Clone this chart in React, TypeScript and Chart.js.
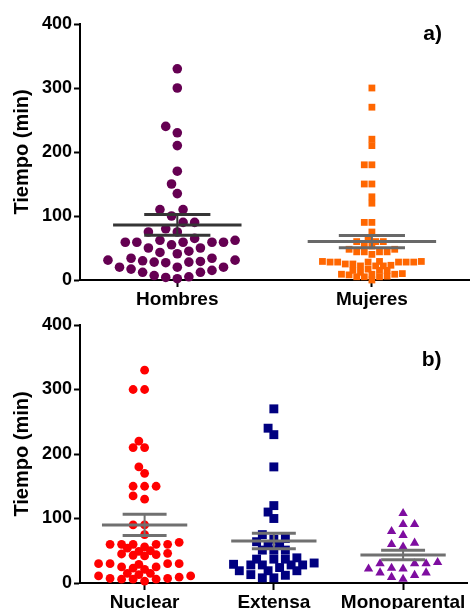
import React, { useEffect, useRef } from 'react';
import { Chart, registerables } from 'chart.js';

Chart.register(...registerables);

// ---------------- data ----------------
const TOP_CATEGORIES = ['Hombres', 'Mujeres'];
const BOTTOM_CATEGORIES = ['Nuclear', 'Extensa', 'Monoparental'];
const Y_TICKS = [0, 100, 200, 300, 400];
const Y_TITLE = 'Tiempo (min)';
const TOP_LABEL = 'a)';
const BOTTOM_LABEL = 'b)';

const HOMBRES = [330, 300, 240, 230, 210, 170, 150, 135, 110, 110, 100, 90, 90, 80, 75, 75, 65,
  62, 59, 59, 59, 59, 59, 62, 50, 45, 50, 55, 41, 43, 34, 31, 29, 28, 27, 28, 30, 31, 34,
  20, 20, 20, 17, 12, 12, 15, 5, 2, 4, 7];
const MUJERES = [300, 270, 220, 210, 180, 180, 150, 150, 130, 120, 90, 90, 75, 64, 60, 60, 60,
  56, 53, 48, 44, 44, 44, 44, 48, 40, 25, 28, 22, 28, 23, 29, 29, 28, 29, 28, 22, 28, 22, 28, 25,
  17, 15, 15, 15, 12, 9, 9, 6, 5, 5, 5, 8, 9, 10, 0];
const NUCLEAR = [330, 300, 300, 220, 210, 210, 180, 170, 150, 150, 150, 135, 130, 90, 90, 75,
  63, 60, 60, 60, 60, 60, 56, 54, 50, 46, 44, 42, 43, 45, 49, 30, 25, 23, 30, 30, 21, 25, 29, 30,
  9, 7, 15, 6, 11, 3, 11, 6, 13, 6, 15, 7];
const EXTENSA = [270, 240, 230, 180, 120, 110, 100, 75, 69, 68, 64, 59, 59, 51, 51, 51, 37, 37,
  37, 39, 28, 24, 29, 28, 28, 31, 28, 19, 19, 19, 12, 8, 8, 13];
const MONOPARENTAL = [108, 91, 91, 80, 74, 62, 56, 60, 30, 30, 30, 32, 22, 23, 22, 16, 12, 16, 6, 9];

const TOP_MEANS = [86, 60];
const TOP_SEMS = [16.2, 9.5];
const BOTTOM_MEANS = [90, 65, 43.4];
const BOTTOM_SEMS = [16.5, 12, 7.2];

// ---------------- styling ----------------
const FONT = '"Liberation Sans", Arial, Helvetica, sans-serif';
const W = 474;
const Y_AXIS_W = 80;

type GroupStyle = {
  color: string; pointStyle: string; radius: number;
  minDist: number; step: number; lineColor: string;
};

const TOP_STYLES: GroupStyle[] = [
  { color: '#650052', pointStyle: 'circle', radius: 4.8, minDist: 10.5, step: 5.85, lineColor: '#353535' },
  { color: '#ff6600', pointStyle: 'rect', radius: 4.8, minDist: 5.5, step: 3.85, lineColor: '#686868' },
];
const BOTTOM_STYLES: GroupStyle[] = [
  { color: '#ff0000', pointStyle: 'circle', radius: 4.4, minDist: 7, step: 5.85, lineColor: '#707070' },
  { color: '#000080', pointStyle: 'rect', radius: 6.3, minDist: 7.5, step: 5.85, lineColor: '#707070' },
  { color: '#7e0da0', pointStyle: 'triangle', radius: 5.4, minDist: 9, step: 5.85, lineColor: '#707070' },
];

// beeswarm placement computed from values (in approximate pixel space)
function swarm(values: number[], center: number, pxPerX: number, pxPerY: number, minDist: number, step: number) {
  const sorted = [...values].sort((a, b) => a - b);
  const placed: { x: number; y: number }[] = [];
  const out: { x: number; y: number }[] = [];
  for (const v of sorted) {
    const py = v * pxPerY;
    let chosen = 0;
    for (let n = 0; n < 400; n++) {
      const off = n === 0 ? 0 : (n % 2 === 1 ? -1 : 1) * Math.ceil(n / 2) * step;
      if (placed.every((p) => Math.hypot(p.x - off, p.y - py) >= minDist)) {
        chosen = off;
        break;
      }
    }
    placed.push({ x: chosen, y: py });
    out.push({ x: center + chosen / pxPerX, y: v });
  }
  return out;
}

interface PanelSpec {
  categories: string[];
  groups: number[][];
  means: number[];
  sems: number[];
  styles: GroupStyle[];
  label: string;
  height: number;
  top: number;
  padTop: number;
  xAxisHeight: number;
  labelDx: number;
  labelDy: number;
}

function buildConfig(p: PanelSpec): any {
  const n = p.categories.length;
  const plotW = W - Y_AXIS_W;
  const plotH = p.height - p.padTop - p.xAxisHeight;
  const pxPerX = plotW / n;
  const pxPerY = plotH / 400;
  const datasets: any[] = [];
  p.groups.forEach((vals, i) => {
    const s = p.styles[i];
    datasets.push({
      data: swarm(vals, i, pxPerX, pxPerY, s.minDist, s.step),
      showLine: false,
      pointStyle: s.pointStyle,
      pointRadius: s.radius,
      pointBackgroundColor: s.color,
      pointBorderWidth: 0,
      backgroundColor: s.color,
      borderColor: s.color,
      order: 2,
      clip: false,
    });
  });
  p.means.forEach((m, i) => {
    const se = p.sems[i];
    const col = p.styles[i].lineColor;
    const segs: [number, number, number][][] = [
      [[i - 0.33, m, 3], [i + 0.33, m, 3]],
      [[i - 0.17, m + se, 3], [i + 0.17, m + se, 3]],
      [[i - 0.17, m - se, 3], [i + 0.17, m - se, 3]],
      [[i, m - se, 2], [i, m + se, 2]],
    ];
    segs.forEach((seg) =>
      datasets.push({
        data: seg.map(([x, y]) => ({ x, y })),
        showLine: true,
        borderColor: col,
        borderWidth: seg[0][2],
        pointRadius: 0,
        borderCapStyle: 'butt',
        order: 1,
        clip: false,
      })
    );
  });

  const panelLabel = {
    id: 'panelLabel',
    afterDraw(chart: any) {
      const ctx = chart.ctx;
      ctx.save();
      ctx.font = `bold 21px ${FONT}`;
      ctx.fillStyle = '#000';
      ctx.textAlign = 'left';
      ctx.textBaseline = 'alphabetic';
      ctx.fillText(p.label, chart.chartArea.right - p.labelDx, chart.chartArea.top + p.labelDy);
      ctx.restore();
    },
  };

  return {
    type: 'scatter',
    data: { datasets },
    options: {
      responsive: false,
      maintainAspectRatio: false,
      animation: false,
      events: [],
      layout: { padding: { top: p.padTop, left: 0, right: 0, bottom: 0 } },
      plugins: { legend: { display: false }, tooltip: { enabled: false } },
      scales: {
        x: {
          type: 'linear',
          min: -0.5,
          max: n - 0.5,
          afterBuildTicks: (s: any) => {
            s.ticks = p.categories.map((_, i) => ({ value: i }));
          },
          afterFit: (s: any) => {
            s.height = p.xAxisHeight;
          },
          ticks: {
            callback: (v: any) => p.categories[Math.round(v)] ?? '',
            font: { family: FONT, size: 19, weight: 'bold' },
            color: '#000',
            maxRotation: 0,
            minRotation: 0,
            autoSkip: false,
            padding: 1,
          },
          grid: { drawOnChartArea: false, drawTicks: true, tickLength: 7, tickWidth: 2, tickColor: '#000' },
          border: { display: true, color: '#000', width: 2 },
        },
        y: {
          type: 'linear',
          min: 0,
          max: 400,
          afterBuildTicks: (s: any) => {
            s.ticks = Y_TICKS.map((v) => ({ value: v }));
          },
          afterFit: (s: any) => {
            s.width = Y_AXIS_W;
          },
          ticks: { font: { family: FONT, size: 18, weight: 'bold' }, color: '#000', padding: 2 },
          grid: { drawOnChartArea: false, drawTicks: true, tickLength: 6, tickWidth: 2, tickColor: '#000' },
          border: { display: true, color: '#000', width: 2 },
          title: {
            display: true,
            text: Y_TITLE,
            font: { family: FONT, size: 20, weight: 'bold' },
            color: '#000',
            padding: { top: 10, bottom: 0 },
          },
        },
      },
    },
    plugins: [panelLabel],
  };
}

const TOP_SPEC: PanelSpec = {
  categories: TOP_CATEGORIES,
  groups: [HOMBRES, MUJERES],
  means: TOP_MEANS,
  sems: TOP_SEMS,
  styles: TOP_STYLES,
  label: TOP_LABEL,
  height: 312,
  top: 0,
  padTop: 24,
  xAxisHeight: 32,
  labelDx: 46,
  labelDy: 15.5,
};

const BOTTOM_SPEC: PanelSpec = {
  categories: BOTTOM_CATEGORIES,
  groups: [NUCLEAR, EXTENSA, MONOPARENTAL],
  means: BOTTOM_MEANS,
  sems: BOTTOM_SEMS,
  styles: BOTTOM_STYLES,
  label: BOTTOM_LABEL,
  height: 297,
  top: 312,
  padTop: 13,
  xAxisHeight: 26,
  labelDx: 46,
  labelDy: 41,
};

function Panel({ spec }: { spec: PanelSpec }) {
  const ref = useRef<HTMLCanvasElement>(null);
  useEffect(() => {
    if (!ref.current) return;
    const chart = new Chart(ref.current, buildConfig(spec));
    return () => chart.destroy();
  }, [spec]);
  return (
    <canvas
      ref={ref}
      width={W}
      height={spec.height}
      style={{ position: 'absolute', left: 0, top: spec.top, width: W, height: spec.height, display: 'block' }}
    />
  );
}

export default function App() {
  return (
    <div style={{ position: 'fixed', left: 0, top: 0, width: W, height: 609, background: '#fff', overflow: 'hidden' }}>
      <Panel spec={TOP_SPEC} />
      <Panel spec={BOTTOM_SPEC} />
    </div>
  );
}
